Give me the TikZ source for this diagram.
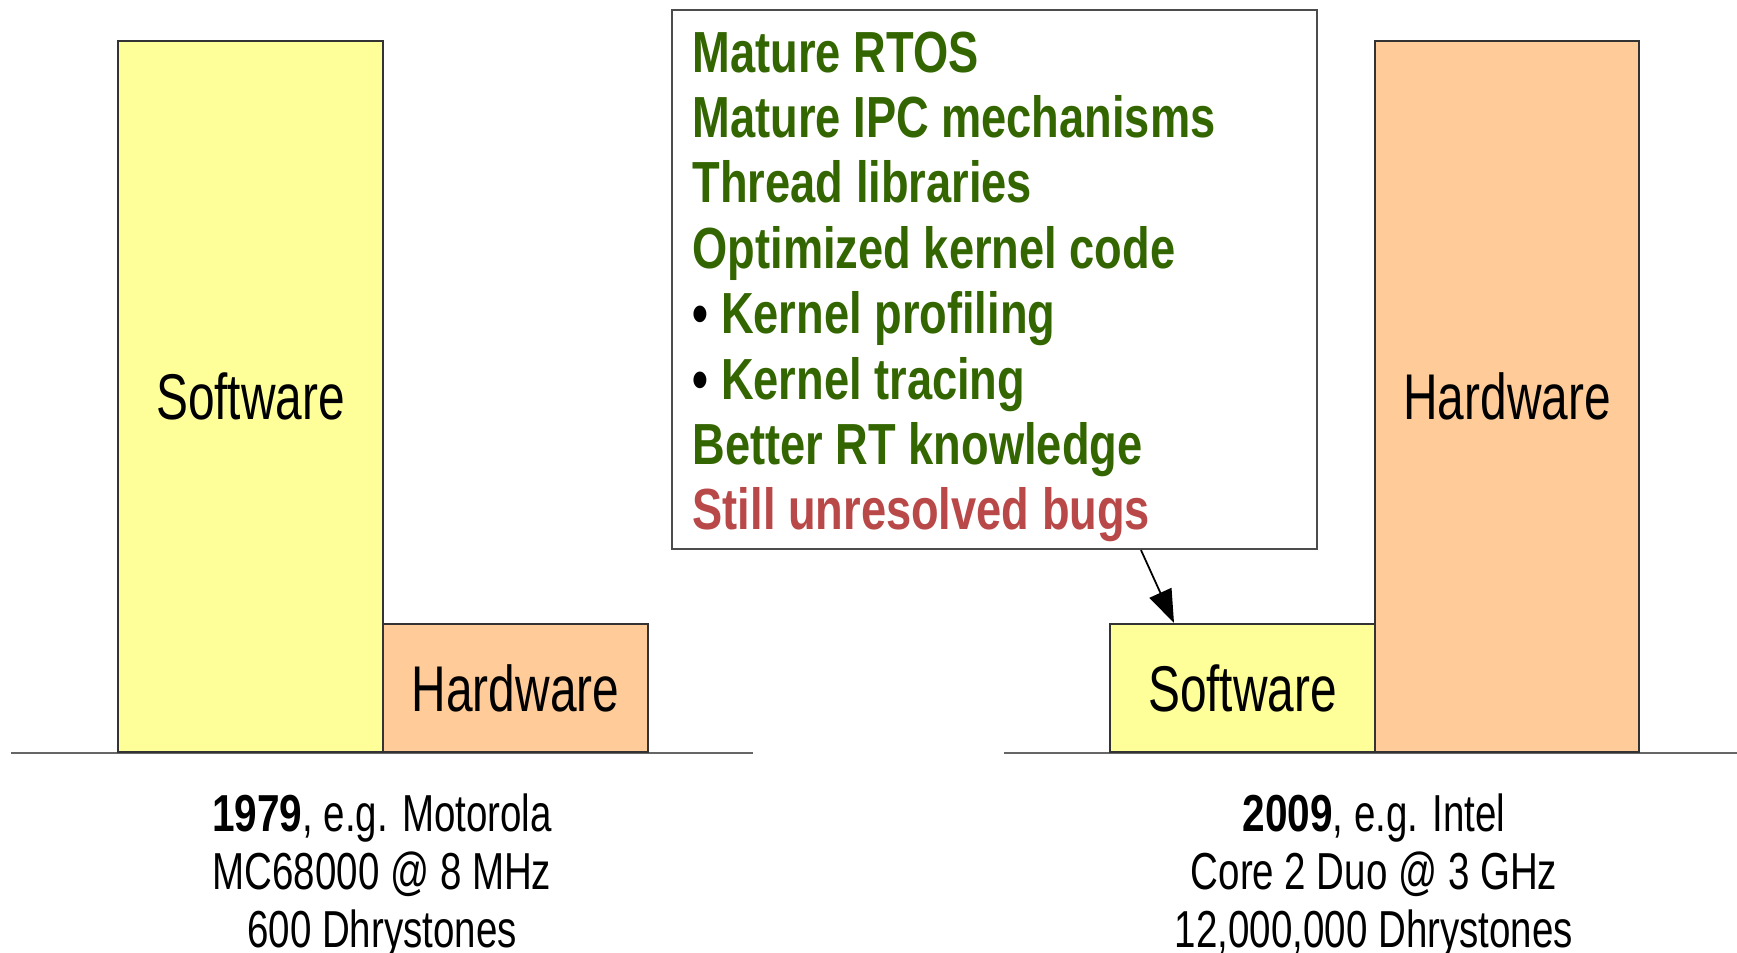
\documentclass[tikz,border=0pt]{standalone}
\usepackage{fontspec}
\setmainfont{Liberation Sans}[FakeStretch=0.74, BoldFeatures={FakeStretch=0.78}]
\usetikzlibrary{arrows.meta}

\definecolor{swyellow}{RGB}{255,255,153}
\definecolor{hworange}{RGB}{255,204,153}
\definecolor{rtgreen}{RGB}{51,102,0}
\definecolor{bugred}{RGB}{185,72,72}

\begin{document}
\begin{tikzpicture}[>={Triangle[length=3.3mm,width=2.4mm]},
    bar/.style={draw=black!80, line width=0.6pt, anchor=south west, inner sep=0pt,
      font=\fontsize{18.4}{21}\selectfont},
    swbar/.style={bar, fill=swyellow},
    hwbar/.style={bar, fill=hworange},
    ground/.style={draw=black!60, line width=0.6pt},
    caption/.style={align=center, font=\fontsize{14.8}{16.4}\selectfont},
    notebox/.style={draw=black!70, line width=0.6pt, fill=white, anchor=north west},
    notetext/.style={align=left, inner sep=0pt, anchor=north west, text=rtgreen,
      font=\fontsize{16.5}{18.6}\selectfont\bfseries}]

  \useasboundingbox (0,0) rectangle (17.37,9.53);

  % 1979
  \draw[ground] (0.11,2) -- (7.53,2);
  \node[swbar, minimum width=2.65cm, minimum height=7.11cm] (oldsw) at (1.17,2) {Software};
  \node[hwbar, minimum width=2.65cm, minimum height=1.28cm] (oldhw) at (3.82,2) {Hardware};
  \node[caption] (oldcap) at (3.82,0.77)
    {\textbf{1979}, e.g. Motorola\\ MC68000 @ 8 MHz\\ 600 Dhrystones};

  % 2009
  \draw[ground] (10.04,2) -- (17.37,2);
  \node[swbar, minimum width=2.65cm, minimum height=1.28cm] (newsw) at (11.09,2) {Software};
  \node[hwbar, minimum width=2.64cm, minimum height=7.11cm] (newhw) at (13.74,2) {Hardware};
  \node[caption] (newcap) at (13.74,0.77)
    {\textbf{2009}, e.g. Intel\\ Core 2 Duo @ 3 GHz\\ 12,000,000 Dhrystones};

  % what changed
  \node[notebox, minimum width=6.45cm, minimum height=5.39cm] (notes) at (6.71,9.44) {};
  \node[notetext] (notelist) at (6.92,9.22)
    {Mature RTOS\\ Mature IPC mechanisms\\ Thread libraries\\ Optimized kernel code\\
     {\color{black}\textbullet} Kernel profiling\\ {\color{black}\textbullet} Kernel tracing\\
     Better RT knowledge\\ {\color{bugred}Still unresolved bugs}};
  \draw[->, line width=0.5pt] ([xshift=4.70cm]notes.south west) -- ([xshift=0.65cm]newsw.north west);
\end{tikzpicture}
\end{document}
